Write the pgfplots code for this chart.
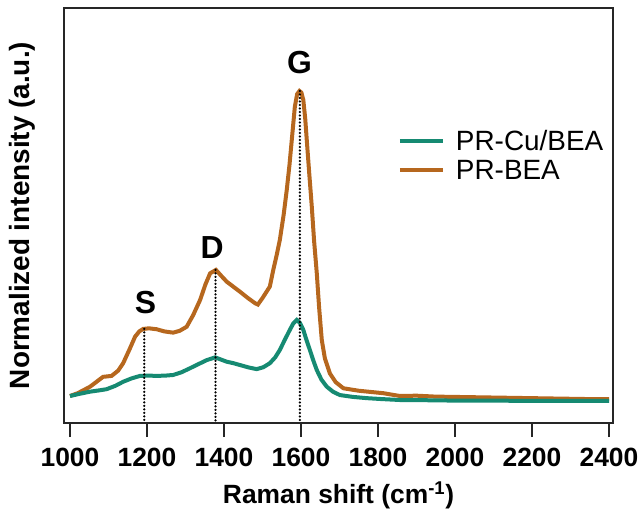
\documentclass[border=0pt]{standalone}
\usepackage{fontspec}
\setmainfont{Liberation Sans}
\usepackage{pgfplots}
\pgfplotsset{compat=1.18}
\definecolor{tealc}{RGB}{22,138,114}
\definecolor{orangec}{RGB}{182,103,30}
\begin{document}
\begin{tikzpicture}
\path[use as bounding box] (-64bp,-86bp) rectangle (578bp,423bp);
\begin{axis}[
  at={(0,0)}, anchor=south west,
  scale only axis, width=549bp, height=415bp,
  xmin=984.4, xmax=2410.4, ymin=-0.0744, ymax=1.2686,
  axis line style={line width=2bp, black!85},
  xtick={1000,1200,...,2400}, ytick=\empty,
  xtick pos=bottom, tick align=outside,
  major tick length=14bp,
  every tick/.style={line width=2bp, black!85},
  /pgf/number format/assume math mode=true,
  /pgf/number format/set thousands separator={},
  xticklabel style={font=\fontsize{26.5}{31}\selectfont\bfseries, anchor=base, yshift=-29bp},
  every axis y label/.style={at={(axis description cs:-0.0765,0.5)}, rotate=90, anchor=center},
  every axis x label/.style={at={(axis description cs:0.5,0)}, anchor=base, yshift=-80bp},
  ylabel style={font=\fontsize{28}{32}\selectfont\bfseries},
  xlabel style={font=\fontsize{26.5}{31}\selectfont\bfseries},
  xlabel={Raman shift (cm\textsuperscript{-1})},
  ylabel={Normalized intensity (a.u.)},
  legend style={at={(rel axis cs:0.608,0.711)}, anchor=north west, draw=none, fill=none,
    font=\fontsize{28}{28}\selectfont, row sep=4bp, inner sep=0bp},
  legend cell align=left,
  legend image code/.code={\draw[#1, line width=4bp] (0bp,0bp) -- (43bp,0bp);},
]
\addlegendimage{tealc}
\addlegendentry{\hspace{9bp}PR-Cu/BEA}
\addlegendimage{orangec}
\addlegendentry{\hspace{9bp}PR-BEA}

% PR-BEA
\addplot[orangec, line width=4bp, forget plot] coordinates {
(1000,0.013) (1020,0.022) (1052,0.043) (1070,0.060) (1086,0.075) (1108,0.078)
(1125,0.095) (1138,0.119) (1155,0.165) (1169,0.205) (1180,0.222) (1190,0.230)
(1205,0.232) (1225,0.229) (1245,0.222) (1268,0.218) (1285,0.224) (1303,0.237)
(1320,0.275) (1338,0.324) (1352,0.375) (1364,0.410) (1379,0.421) (1392,0.403)
(1407,0.383) (1425,0.366) (1442,0.350) (1462,0.330) (1481,0.313) (1488,0.309)
(1500,0.330) (1519,0.367) (1528,0.421) (1537,0.470) (1545,0.518) (1555,0.600)
(1563,0.680) (1570,0.760) (1576,0.841) (1584,0.949) (1590,0.990) (1596,1.000)
(1601,0.995) (1606,0.971) (1611,0.910) (1615,0.841) (1621,0.740) (1628,0.626)
(1634,0.515) (1641,0.410) (1647,0.300) (1654,0.194) (1662,0.135) (1675,0.086)
(1690,0.058) (1710,0.038) (1750,0.030) (1814,0.022) (1857,0.013) (1900,0.014)
(1950,0.011) (2000,0.010) (2050,0.009) (2100,0.008) (2150,0.007) (2200,0.006)
(2250,0.005) (2300,0.004) (2350,0.003) (2400,0.003)
};
% PR-Cu/BEA
\addplot[tealc, line width=4bp, forget plot] coordinates {
(1000,0.013) (1025,0.020) (1052,0.027) (1075,0.031) (1095,0.035) (1118,0.046)
(1138,0.059) (1160,0.070) (1182,0.078) (1205,0.079) (1225,0.078) (1248,0.079)
(1268,0.081) (1290,0.090) (1312,0.103) (1335,0.117) (1355,0.129) (1377,0.138)
(1392,0.131) (1407,0.124) (1425,0.119) (1442,0.113) (1465,0.105) (1485,0.100)
(1502,0.106) (1519,0.119) (1533,0.138) (1545,0.162) (1558,0.195) (1571,0.227)
(1580,0.248) (1589,0.259) (1597,0.250) (1606,0.227) (1614,0.195) (1623,0.162)
(1632,0.128) (1641,0.097) (1653,0.066) (1667,0.043) (1683,0.027) (1701,0.016)
(1735,0.010) (1771,0.006) (1810,0.003) (1857,0.000) (1950,-0.001) (2000,-0.002)
(2100,-0.002) (2200,-0.003) (2300,-0.003) (2400,-0.003)
};
% dotted guides
\addplot[black, line width=2.5bp, line cap=round, dash pattern=on 0bp off 3.5bp, forget plot] coordinates {(1193,0.230) (1193,-0.0744)};
\addplot[black, line width=2.5bp, line cap=round, dash pattern=on 0bp off 3.5bp, forget plot] coordinates {(1378,0.421) (1378,-0.0744)};
\addplot[black, line width=2.5bp, line cap=round, dash pattern=on 0bp off 3.5bp, forget plot] coordinates {(1597,1.000) (1597,-0.0744)};

\node[font=\fontsize{32}{36}\selectfont\bfseries] at (axis cs:1196,0.316) {S};
\node[font=\fontsize{32}{36}\selectfont\bfseries] at (axis cs:1369,0.492) {D};
\node[font=\fontsize{32}{36}\selectfont\bfseries] at (axis cs:1596,1.091) {G};
\end{axis}
\end{tikzpicture}
\end{document}
